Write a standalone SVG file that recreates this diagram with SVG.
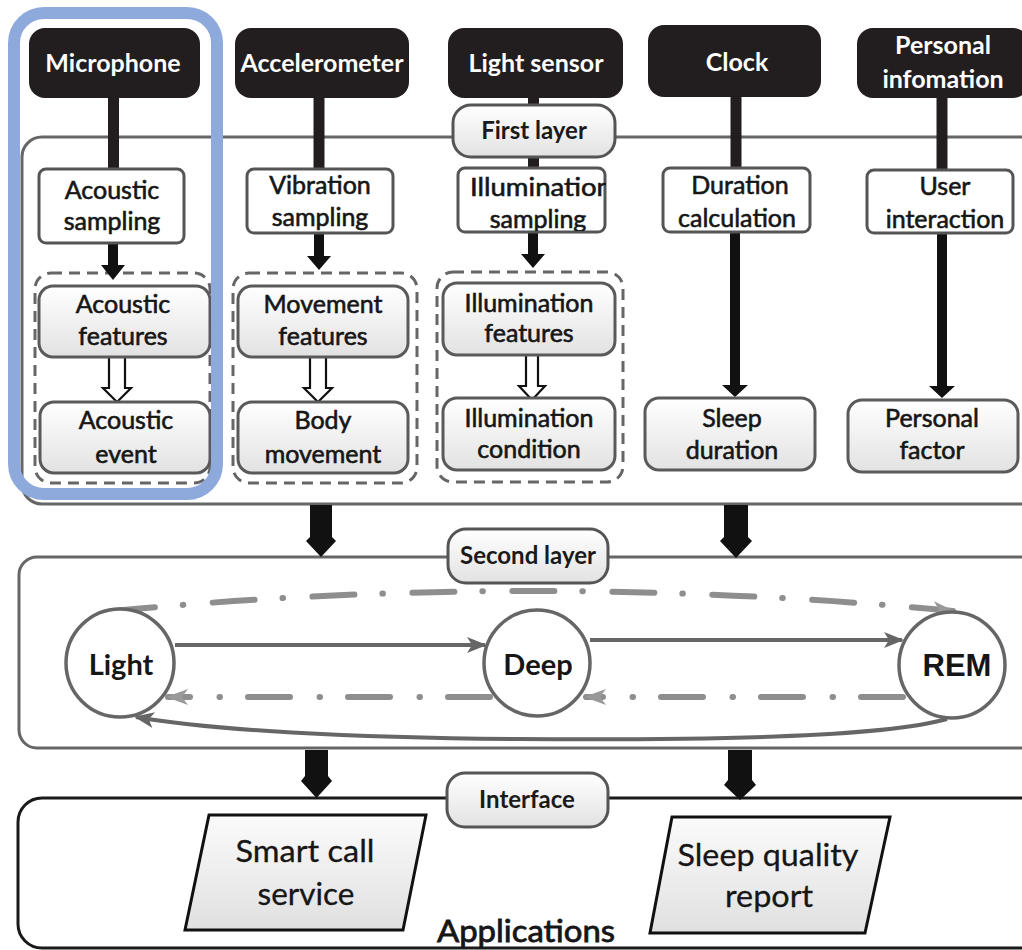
<svg xmlns="http://www.w3.org/2000/svg" width="1022" height="950" viewBox="0 0 1022 950">
<defs>
  <linearGradient id="lg" x1="0" y1="0" x2="0" y2="1">
    <stop offset="0" stop-color="#ffffff"/>
    <stop offset="1" stop-color="#e2e2e2"/>
  </linearGradient>
  <linearGradient id="pg" x1="0" y1="0" x2="0" y2="1">
    <stop offset="0" stop-color="#fbfbfb"/>
    <stop offset="1" stop-color="#e0e0e0"/>
  </linearGradient>
  <marker id="ah" viewBox="0 0 20 16" markerUnits="userSpaceOnUse" markerWidth="20" markerHeight="16" refX="18" refY="8" orient="auto">
    <path d="M0,0 L20,8 L0,16 L5,8 z" fill="#666"/>
  </marker>
  <marker id="ahd" viewBox="0 0 22 16" markerUnits="userSpaceOnUse" markerWidth="22" markerHeight="16" refX="20" refY="8" orient="auto">
    <path d="M0,0 L22,8 L0,16 L6,8 z" fill="#999"/>
  </marker>
  <clipPath id="clipIS">
    <rect x="440" y="160" width="166" height="71"/>
  </clipPath>
</defs>
<style>
  text { font-family: Lato, "Open Sans", "Liberation Sans", sans-serif; }
  .layer { fill: #fff; stroke: #666; stroke-width: 3; }
  .layer3 { fill: #fff; stroke: #1a1a1a; stroke-width: 3; }
  .lbl rect { fill: url(#lg); stroke: #555; stroke-width: 3; }
  .lbl text { font-size: 24px; font-weight: bold; fill: #1a1a1a; text-anchor: middle; }
  .hdr rect { fill: #221e1f; }
  .hdr text { font-size: 25px; font-weight: bold; fill: #fff; text-anchor: middle; }
  .smp rect { fill: #fff; stroke: #555; stroke-width: 3; }
  .smp text, .feat text { font-size: 25px; fill: #161616; stroke: #161616; stroke-width: 0.6; text-anchor: middle; }
  .feat rect { fill: url(#lg); stroke: #5a5a5a; stroke-width: 3; }
  .grp { fill: none; stroke: #666; stroke-width: 3; stroke-dasharray: 11 7; }
  .bar { stroke: #221e1f; stroke-width: 11; fill: none; }
  .blk { fill: #111; }
  .hol { fill: #fff; stroke: #111; stroke-width: 2.2; }
  .st circle { fill: #fff; stroke: #666; stroke-width: 3.5; }
  .st text { font-size: 29px; font-weight: bold; fill: #161616; text-anchor: middle; }
  .sol { fill: none; stroke: #666; stroke-width: 4; }
  .dd { fill: none; stroke: #8e8e8e; stroke-width: 6; stroke-linecap: round; stroke-dasharray: 42 28 0.5 29.5; }
  .app polygon { fill: url(#pg); stroke: #111; stroke-width: 3; }
  .app text { font-size: 31px; fill: #161616; stroke: #161616; stroke-width: 0.3; text-anchor: middle; }
</style>

<g id="layer1"><rect class="layer" x="22" y="137" width="1040" height="367" rx="20"/></g>
<g id="layer2"><rect class="layer" x="19" y="557" width="1040" height="191" rx="18"/></g>
<g id="layer3"><rect class="layer3" x="18" y="798" width="1040" height="150" rx="24"/></g>

<g id="groups">
  <rect class="grp" x="35" y="273" width="175" height="210" rx="16"/>
  <rect class="grp" x="233" y="273" width="184" height="210" rx="16"/>
  <rect class="grp" x="437" y="272" width="186" height="210" rx="16"/>
</g>

<g id="connectors">
  <line class="bar" x1="113.5" y1="97" x2="113.5" y2="170"/>
  <line class="bar" x1="319" y1="97" x2="319" y2="170"/>
  <line class="bar" x1="533.5" y1="97" x2="533.5" y2="169"/>
  <line class="bar" x1="736" y1="96" x2="736" y2="169"/>
  <line class="bar" x1="942" y1="97" x2="942" y2="171"/>
  <polygon class="blk" points="108,243 118,243 118,265 125,265 113,280 101,265 108,265"/>
  <polygon class="blk" points="314,233 324,233 324,256 331,256 319,270 307,256 314,256"/>
  <polygon class="blk" points="528,232 538,232 538,254 545,254 533,268 521,254 528,254"/>
  <polygon class="blk" points="730,232 740,232 740,385 748,385 735,397 722,385 730,385"/>
  <polygon class="blk" points="937,233 947,233 947,386 955,386 942,398 929,386 937,386"/>
  <polygon class="hol" points="109,357 125,357 125,388 131,388 117,402 103,388 109,388"/>
  <polygon class="hol" points="310,357 326,357 326,388 332,388 318,402 304,388 310,388"/>
  <polygon class="hol" points="526,355 538,355 538,386 545,386 532,400 519,386 526,386"/>
  <polygon class="blk" points="310,505 332,505 332,537 336,541 321,557 306,541 310,537"/>
  <polygon class="blk" points="724,505 748,505 748,537 752,541 736,558 720,541 724,537"/>
  <polygon class="blk" points="305,750 328,750 328,776 332,781 316.5,798 301,781 305,776"/>
  <polygon class="blk" points="728,750 752,750 752,780 756,785 740,800 724,785 728,780"/>
  <path class="sol" d="M175,645 L485,645" marker-end="url(#ah)"/>
  <path class="sol" d="M590,640 L902,640" marker-end="url(#ah)"/>
  <path class="sol" d="M947,719 C880,738 700,740 520,739 C350,738 210,730 136,717" marker-end="url(#ah)"/>
  <path class="dd" d="M113,611 Q532,571 953,611" marker-end="url(#ahd)"/>
  <path class="dd" d="M903,697 L586,697" marker-end="url(#ahd)"/>
  <path class="dd" d="M490,697 L168,697" marker-end="url(#ahd)"/>
</g>

<g id="microphone" class="hdr"><rect x="29" y="28" width="171" height="70" rx="16"/><text x="113" y="72">Microphone</text></g>
<g id="accelerometer" class="hdr"><rect x="235" y="28" width="174" height="70" rx="16"/><text x="322" y="72">Accelerometer</text></g>
<g id="light-sensor" class="hdr"><rect x="448" y="28" width="175" height="70" rx="16"/><text x="536" y="72">Light sensor</text></g>
<g id="clock" class="hdr"><rect x="648" y="25" width="173" height="72" rx="16"/><text x="737" y="71">Clock</text></g>
<g id="personal-information" class="hdr"><rect x="857" y="28" width="172" height="70" rx="16"/><text x="943" y="54">Personal</text><text x="943" y="88">infomation</text></g>

<g id="first-layer" class="lbl"><rect x="453" y="105" width="162" height="52" rx="18"/><text x="534" y="139">First layer</text></g>

<g id="acoustic-sampling" class="smp"><rect x="39" y="169" width="145" height="74" rx="7"/><text x="112" y="199">Acoustic</text><text x="112" y="230">sampling</text></g>
<g id="vibration-sampling" class="smp"><rect x="247" y="169" width="146" height="64" rx="7"/><text x="320" y="194">Vibration</text><text x="320" y="226">sampling</text></g>
<g id="illumination-sampling" class="smp"><rect x="458" y="168" width="147" height="64" rx="7"/><g clip-path="url(#clipIS)"><text x="470" y="196" textLength="142" lengthAdjust="spacingAndGlyphs" style="text-anchor:start">Illumination</text><text x="538" y="228">sampling</text></g></g>
<g id="duration-calculation" class="smp"><rect x="663" y="168" width="147" height="64" rx="7"/><text x="740" y="194">Duration</text><text x="737" y="227">calculation</text></g>
<g id="user-interaction" class="smp"><rect x="867" y="170" width="146" height="63" rx="7"/><text x="945" y="195">User</text><text x="945" y="228">interaction</text></g>

<g id="acoustic-features" class="feat"><rect x="39" y="286" width="171" height="71" rx="14"/><text x="123" y="313">Acoustic</text><text x="123" y="345">features</text></g>
<g id="acoustic-event" class="feat"><rect x="40" y="402" width="170" height="71" rx="14"/><text x="126" y="429">Acoustic</text><text x="126" y="463">event</text></g>
<g id="movement-features" class="feat"><rect x="238" y="286" width="170" height="71" rx="14"/><text x="323" y="313">Movement</text><text x="323" y="345">features</text></g>
<g id="body-movement" class="feat"><rect x="238" y="402" width="170" height="71" rx="14"/><text x="323" y="429">Body</text><text x="323" y="463">movement</text></g>
<g id="illumination-features" class="feat"><rect x="443" y="283" width="172" height="72" rx="14"/><text x="529" y="312">Illumination</text><text x="529" y="342">features</text></g>
<g id="illumination-condition" class="feat"><rect x="443" y="398" width="172" height="72" rx="14"/><text x="529" y="427">Illumination</text><text x="529" y="458">condition</text></g>
<g id="sleep-duration" class="feat"><rect x="645" y="398" width="170" height="72" rx="14"/><text x="732" y="427">Sleep</text><text x="732" y="459">duration</text></g>
<g id="personal-factor" class="feat"><rect x="848" y="400" width="170" height="72" rx="14"/><text x="932" y="427">Personal</text><text x="932" y="459">factor</text></g>

<g id="second-layer" class="lbl"><rect x="448" y="529" width="160" height="54" rx="18"/><text x="528" y="564">Second layer</text></g>

<g id="state-light" class="st"><circle cx="120" cy="663" r="54"/><text x="121" y="675">Light</text></g>
<g id="state-deep" class="st"><circle cx="537" cy="663" r="53"/><text x="538" y="675">Deep</text></g>
<g id="state-rem" class="st"><circle cx="952" cy="665" r="53"/><text x="957" y="676" style="font-family:'Liberation Sans',Arial,sans-serif;font-size:31px">REM</text></g>

<g id="interface" class="lbl"><rect x="447" y="773" width="161" height="54" rx="18"/><text x="527" y="808">Interface</text></g>

<g id="smart-call-service" class="app"><polygon points="209,815 426,815 403,930 185,930"/><text x="305" y="862" textLength="139" lengthAdjust="spacingAndGlyphs">Smart call</text><text x="306" y="905" textLength="97" lengthAdjust="spacingAndGlyphs">service</text></g>
<g id="sleep-quality-report" class="app"><polygon points="672,817 890,817 865,933 650,933"/><text x="768" y="866" textLength="181" lengthAdjust="spacingAndGlyphs">Sleep quality</text><text x="769" y="907" textLength="88" lengthAdjust="spacingAndGlyphs">report</text></g>
<text x="526" y="942" textLength="178" lengthAdjust="spacingAndGlyphs" style="font-size:31px;fill:#161616;stroke:#161616;stroke-width:0.8;text-anchor:middle">Applications</text>

<g id="highlight"><rect x="14" y="13" width="203" height="481" rx="30" fill="none" stroke="#8eaadc" stroke-width="12"/></g>
</svg>
